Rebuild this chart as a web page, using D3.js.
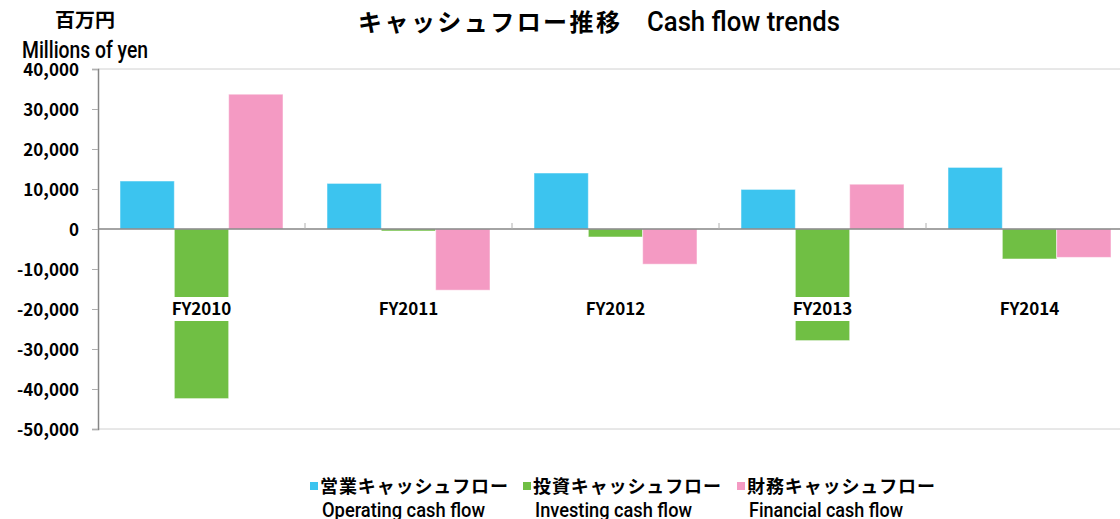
<!DOCTYPE html>
<html>
<head>
    <meta charset="utf-8">
    <title>Cash flow trends</title>
    <style>
        body { margin: 0; background: #ffffff; }
        #chart text { font-family: "Noto Sans CJK JP", sans-serif; fill: #000000; }
        #chart text.latin { font-family: Roboto, "DejaVu Sans", sans-serif; font-weight: 500; }
    </style>
    <script src="https://d3js.org/d3.v7.min.js"></script>
</head>
<body>
    <div id="chart"></div>

    <script>
        var categories = ["FY2010", "FY2011", "FY2012", "FY2013", "FY2014"];
        var operating = [12000, 11400, 14000, 9900, 15400];
        var investing = [-42400, -500, -2000, -27900, -7500];
        var financial = [33700, -15300, -8800, 11200, -7100];
        var seriesNames = ["営業キャッシュフロー", "投資キャッシュフロー", "財務キャッシュフロー"];
        var seriesEnglish = ["Operating cash flow", "Investing cash flow", "Financial cash flow"];
        var yTicks = [40000, 30000, 20000, 10000, 0, -10000, -20000, -30000, -40000, -50000];

        var colors = ["#3cc4ef", "#70bf44", "#f49ac3"];
        var series = [operating, investing, financial];

        var width = 1120;
        var height = 519;

        var svg = d3.select("#chart").append("svg")
            .attr("width", width)
            .attr("height", height);

        var x = d3.scaleBand().domain(categories).range([98, 1133]).padding(0);
        var y = d3.scaleLinear().domain([-50000, 40000]).range([429, 69]);
        var inner = d3.scaleBand().domain([0, 1, 2]).range([22, x.bandwidth() - 22]).padding(0);

        // plot frame
        svg.append("line").attr("x1", 98).attr("x2", width).attr("y1", y(40000)).attr("y2", y(40000))
            .attr("stroke", "#d0d0d0");
        svg.append("line").attr("x1", 98).attr("x2", width).attr("y1", y(-50000)).attr("y2", y(-50000))
            .attr("stroke", "#d0d0d0");

        // bars
        series.forEach(function(values, i) {
            svg.append("g").selectAll("rect")
                .data(values)
                .enter().append("rect")
                .attr("x", function(d, j) { return x(categories[j]) + inner(i); })
                .attr("y", function(d) { return y(Math.max(0, d)); })
                .attr("width", inner.bandwidth())
                .attr("height", function(d) { return Math.abs(y(d) - y(0)); })
                .attr("fill", colors[i])
                .attr("stroke", "#ffffff")
                .attr("stroke-opacity", 0.5)
                .attr("stroke-width", 1);
        });

        // zero line and category ticks
        svg.append("line").attr("x1", 98).attr("x2", width).attr("y1", y(0)).attr("y2", y(0))
            .attr("stroke", "#868686").attr("stroke-width", 1.5);
        svg.append("g").selectAll("line")
            .data(categories.slice(1))
            .enter().append("line")
            .attr("x1", function(d) { return x(d); })
            .attr("x2", function(d) { return x(d); })
            .attr("y1", y(0) - 6).attr("y2", y(0))
            .attr("stroke", "#b0b0b0");

        // y axis
        var yAxis = d3.axisLeft(y)
            .tickValues(yTicks)
            .tickSize(6)
            .tickPadding(13)
            .tickFormat(function(d) { return d3.format(",")(d).replace("−", "-"); });
        var gy = svg.append("g").attr("transform", "translate(98,0)").call(yAxis);
        gy.select(".domain").attr("stroke", "#868686").attr("stroke-width", 1.5);
        gy.selectAll(".tick line").attr("stroke", "#b0b0b0");
        gy.selectAll(".tick text")
            .style("font-size", "17px").style("font-weight", "bold")
            .attr("dy", "0.36em");

        // category labels with white background
        var cat = svg.append("g").selectAll("g")
            .data(categories)
            .enter().append("g")
            .attr("transform", function(d) { return "translate(" + (x(d) + x.bandwidth() / 2) + ",309)"; });
        cat.append("rect")
            .attr("x", -36).attr("y", -12)
            .attr("width", 72).attr("height", 24)
            .attr("fill", "#ffffff");
        cat.append("text")
            .attr("text-anchor", "middle")
            .attr("dy", "0.36em")
            .style("font-size", "17px").style("font-weight", "bold")
            .text(function(d) { return d; });

        // titles
        svg.append("text").attr("x", 358).attr("y", 31)
            .attr("textLength", 262).attr("lengthAdjust", "spacing")
            .style("font-size", "24px").style("font-weight", "bold")
            .text("キャッシュフロー推移");
        svg.append("text").attr("class", "latin").attr("x", 647).attr("y", 31)
            .attr("textLength", 193).attr("lengthAdjust", "spacingAndGlyphs")
            .style("font-size", "28px")
            .text("Cash flow trends");
        svg.append("text").attr("x", 55).attr("y", 27)
            .attr("textLength", 60).attr("lengthAdjust", "spacingAndGlyphs")
            .style("font-size", "19px").style("font-weight", "bold")
            .text("百万円");
        svg.append("text").attr("class", "latin").attr("x", 22).attr("y", 58)
            .attr("textLength", 126).attr("lengthAdjust", "spacingAndGlyphs")
            .style("font-size", "23px")
            .text("Millions of yen");

        // legend
        var legendX = [310, 523, 737];
        var engWidth = [163, 157, 154];
        var lg = svg.append("g").selectAll("g")
            .data(seriesNames)
            .enter().append("g")
            .attr("transform", function(d, i) { return "translate(" + legendX[i] + ",0)"; });
        lg.append("rect")
            .attr("x", 0).attr("y", 482).attr("width", 8).attr("height", 8)
            .attr("fill", function(d, i) { return colors[i]; });
        lg.append("text")
            .attr("x", 10).attr("y", 493)
            .attr("textLength", 188).attr("lengthAdjust", "spacing")
            .style("font-size", "18px").style("font-weight", "bold")
            .text(function(d) { return d; });
        lg.append("text").attr("class", "latin")
            .attr("x", 12).attr("y", 517)
            .attr("textLength", function(d, i) { return engWidth[i]; })
            .attr("lengthAdjust", "spacingAndGlyphs")
            .style("font-size", "21px")
            .text(function(d, i) { return seriesEnglish[i]; });
    </script>
</body>
</html>
